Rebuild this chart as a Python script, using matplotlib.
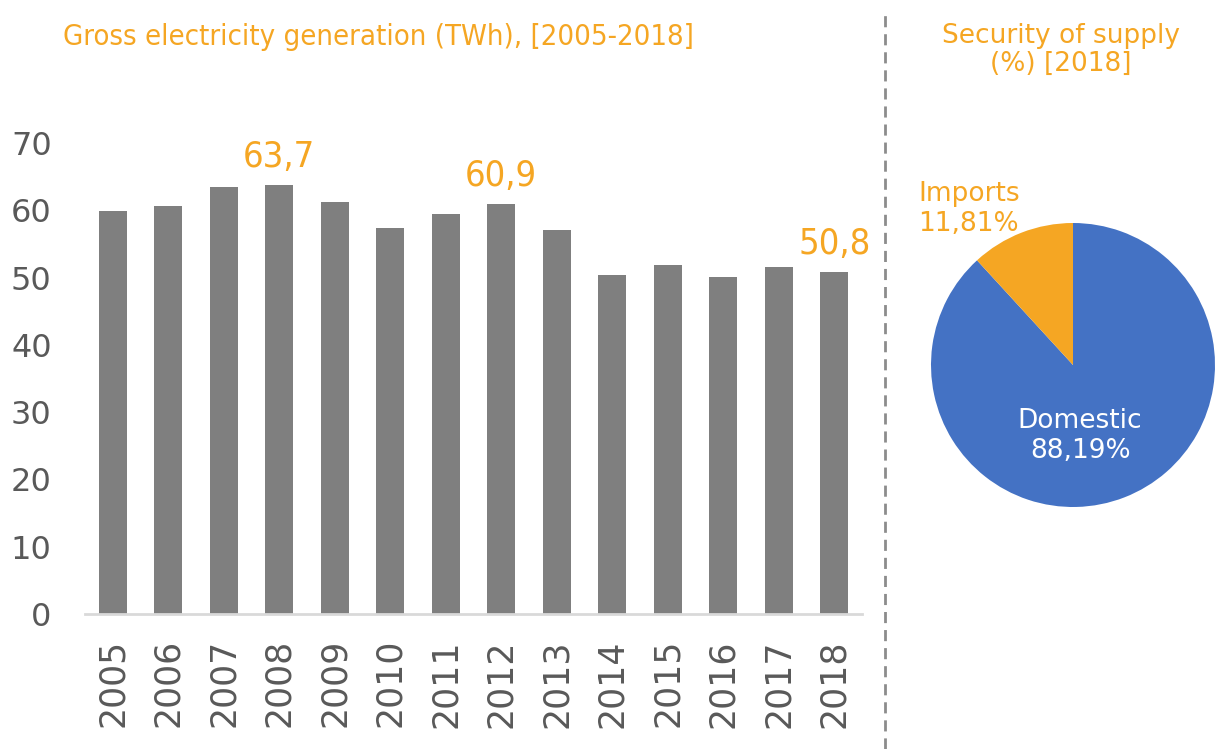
import matplotlib
matplotlib.use("Agg")
import matplotlib.pyplot as plt
from matplotlib.lines import Line2D

# Gross electricity generation, TWh
YEARS = [2005, 2006, 2007, 2008, 2009, 2010, 2011, 2012, 2013, 2014, 2015, 2016, 2017, 2018]
GENERATION = [59.9, 60.6, 63.4, 63.7, 61.3, 57.4, 59.4, 60.9, 57.1, 50.4, 51.8, 50.1, 51.6, 50.8]
LABELED_YEARS = [2008, 2012, 2018]
Y_TICKS = [0, 10, 20, 30, 40, 50, 60, 70]

# Security of supply 2018, %
SUPPLY_LABELS = ["Domestic", "Imports"]
SUPPLY_SHARES = [88.19, 11.81]

ORANGE = "#F5A623"
GREY_BAR = "#7F7F7F"
GREY_TXT = "#595959"
BLUE = "#4472C4"

plt.rcParams["font.family"] = ["DejaVu Sans"]


def fmt(v, nd):
    return f"{v:.{nd}f}".replace(".", ",")


W, H = 1215, 749
fig = plt.figure(figsize=(W / 100, H / 100), dpi=100)

# --- bar chart -------------------------------------------------------------
ax = fig.add_axes([85 / W, 1 - 614 / H, 777 / W, (614 - 143) / H])
x = list(range(len(YEARS)))
ax.bar(x, GENERATION, width=0.5, color=GREY_BAR, zorder=2)
ax.set_xlim(-0.5, len(YEARS) - 0.5)
ax.set_ylim(0, 70)
ax.set_yticks(Y_TICKS)
ax.set_yticklabels([str(t) for t in Y_TICKS])
ax.set_xticks(x)
ax.set_xticklabels([str(y) for y in YEARS], rotation=90)
ax.tick_params(axis="y", length=0, pad=24, labelsize=23, labelcolor=GREY_TXT)
ax.tick_params(axis="x", length=0, pad=18, labelsize=25, labelcolor=GREY_TXT)
for side in ("left", "right", "top"):
    ax.spines[side].set_visible(False)
ax.spines["bottom"].set_color("#D9D9D9")
ax.spines["bottom"].set_linewidth(2)

for yr in LABELED_YEARS:
    i = YEARS.index(yr)
    ax.annotate(fmt(GENERATION[i], 1), (i, GENERATION[i]), xytext=(0, 8),
                textcoords="offset points", ha="center", va="bottom",
                fontsize=26, color=ORANGE, fontstretch="condensed",
                annotation_clip=False)

fig.text(63 / W, 1 - 37 / H, "Gross electricity generation (TWh), [2005-2018]",
         ha="left", va="center", fontsize=21, color=ORANGE, fontstretch="condensed")

# --- separator -------------------------------------------------------------
fig.add_artist(Line2D([885 / W, 885 / W], [0, 1 - 10 / H], transform=fig.transFigure,
                      color="#8C8C8C", lw=2, linestyle=(0, (4, 2.5))))

# --- pie chart -------------------------------------------------------------
cx, cy, r = 1073, 365, 142
pax = fig.add_axes([(cx - r) / W, 1 - (cy + r) / H, 2 * r / W, 2 * r / H])
pax.pie(SUPPLY_SHARES, colors=[BLUE, ORANGE], startangle=90, counterclock=False,
        radius=1, wedgeprops=dict(linewidth=0))
pax.set_xlim(-1, 1)
pax.set_ylim(-1, 1)
pax.set_aspect("equal")
pax.axis("off")

pax.text(0.05, -0.5, f"{SUPPLY_LABELS[0]}\n{fmt(SUPPLY_SHARES[0], 2)}%",
         ha="center", va="center", fontsize=19, color="white", linespacing=1.2)
pax.text(-1.09, 1.10, f"{SUPPLY_LABELS[1]}\n{fmt(SUPPLY_SHARES[1], 2)}%",
         ha="left", va="center", fontsize=19, color=ORANGE, linespacing=1.2)

fig.text(1061 / W, 1 - 50 / H, "Security of supply\n(%) [2018]", ha="center",
         va="center", fontsize=19, color=ORANGE, linespacing=1.1)

fig.savefig("out.png", dpi=100)
